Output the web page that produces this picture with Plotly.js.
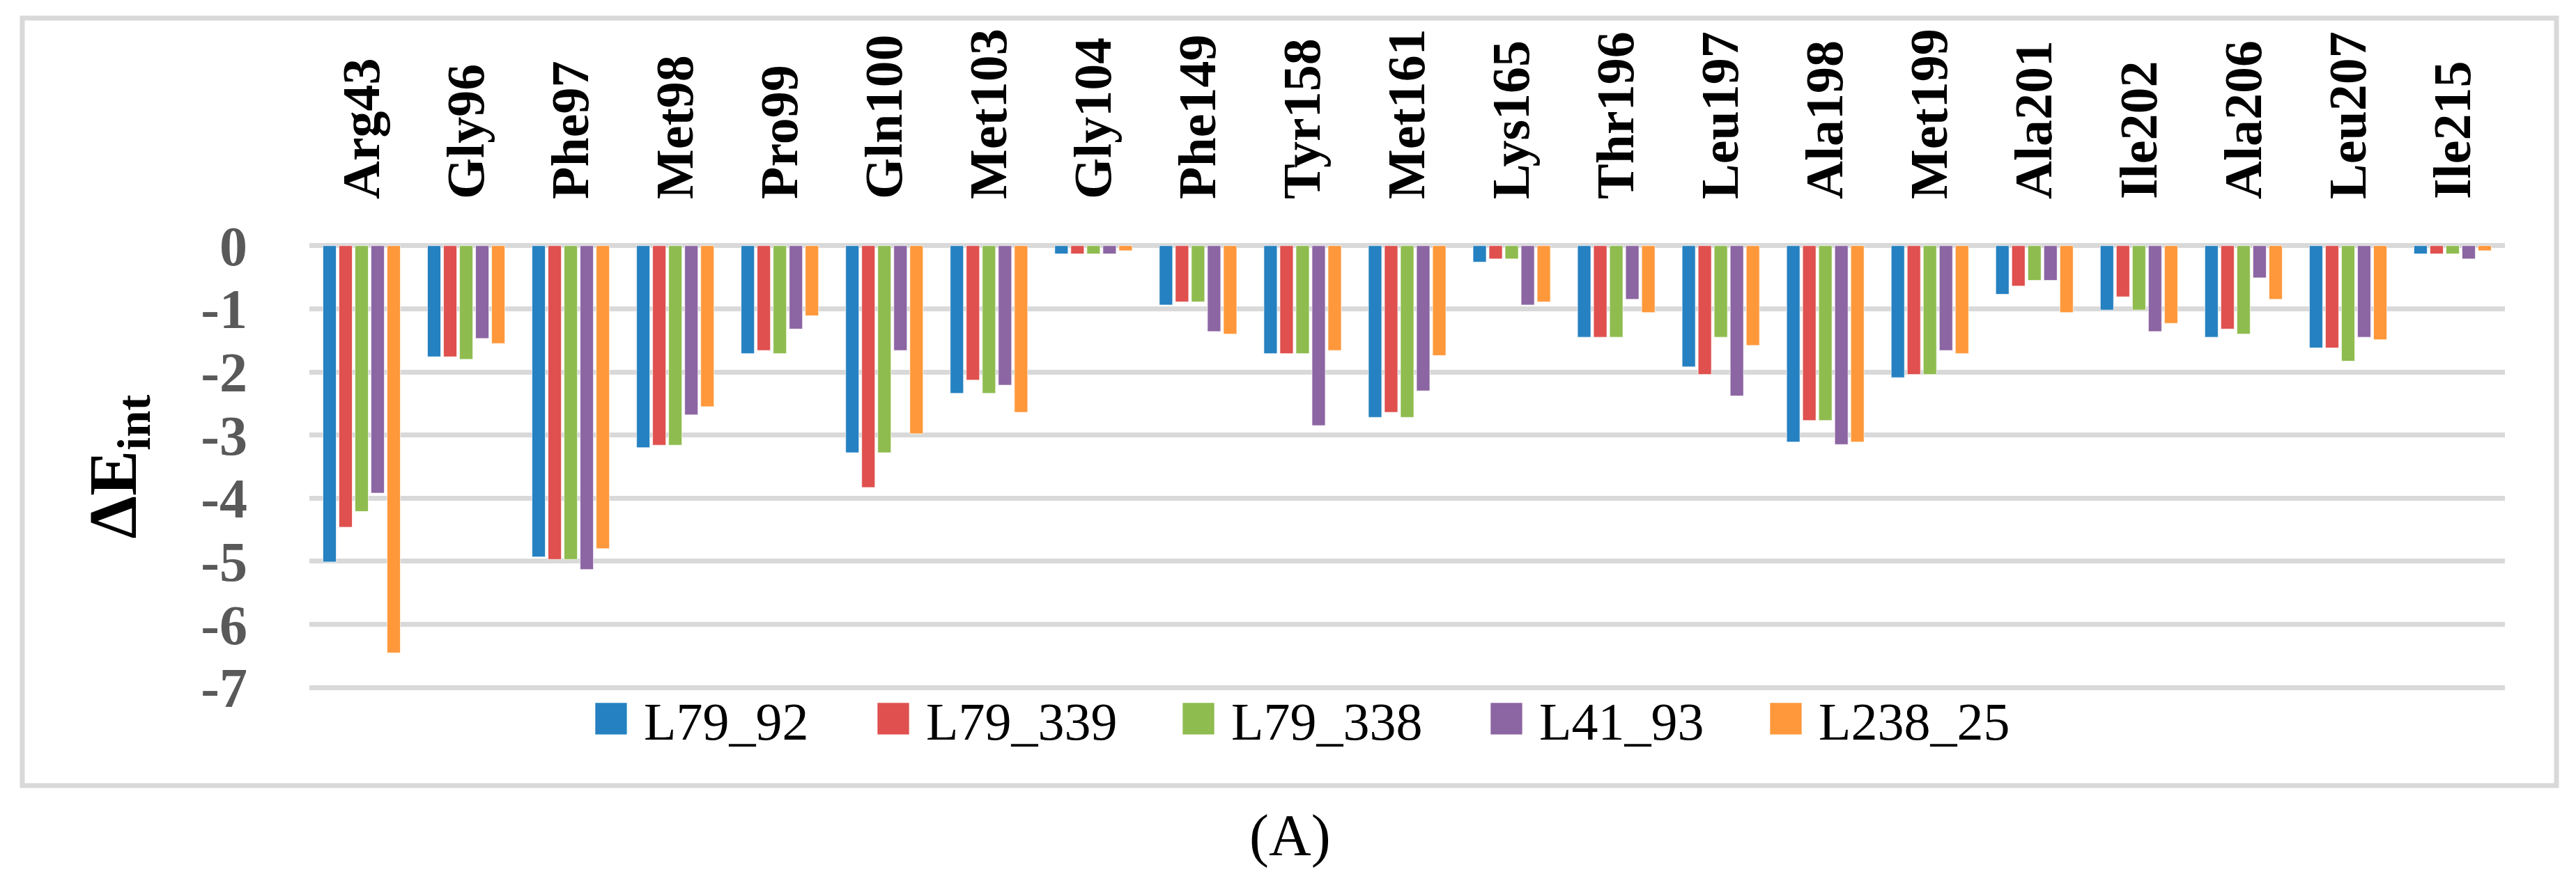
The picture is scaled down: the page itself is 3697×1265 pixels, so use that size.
<!DOCTYPE html>
<html>
<head>
<meta charset="utf-8">
<script src="https://cdn.plot.ly/plotly-3.0.1.min.js"></script>
<style>
  html, body { margin: 0; padding: 0; background: #ffffff; }
  #chart { width: 3697px; height: 1265px; }
</style>
</head>
<body>
<div id="chart"></div>
<script>
// ---- data ----
const residues = ['Arg43','Gly96','Phe97','Met98','Pro99','Gln100','Met103','Gly104','Phe149','Tyr158','Met161','Lys165','Thr196','Leu197','Ala198','Met199','Ala201','Ile202','Ala206','Leu207','Ile215'];
const seriesNames = ['L79_92','L79_339','L79_338','L41_93','L238_25'];
const L79_92  = [-5.01,-1.76,-4.93,-3.20,-1.71,-3.28,-2.34,-0.13,-0.94,-1.71,-2.72,-0.26,-1.45,-1.92,-3.11,-2.09,-0.77,-1.02,-1.45,-1.62,-0.13];
const L79_339 = [-4.46,-1.76,-4.97,-3.16,-1.66,-3.83,-2.13,-0.13,-0.89,-1.71,-2.64,-0.21,-1.45,-2.04,-2.77,-2.04,-0.64,-0.81,-1.32,-1.62,-0.13];
const L79_338 = [-4.21,-1.80,-4.97,-3.16,-1.71,-3.28,-2.34,-0.13,-0.89,-1.71,-2.72,-0.21,-1.45,-1.45,-2.77,-2.04,-0.55,-1.02,-1.40,-1.83,-0.13];
const L41_93  = [-3.92,-1.47,-5.13,-2.68,-1.32,-1.66,-2.21,-0.13,-1.36,-2.85,-2.30,-0.94,-0.85,-2.38,-3.15,-1.66,-0.55,-1.36,-0.51,-1.45,-0.21];
const L238_25 = [-6.45,-1.55,-4.80,-2.55,-1.11,-2.98,-2.64,-0.08,-1.40,-1.66,-1.74,-0.89,-1.06,-1.58,-3.11,-1.71,-1.06,-1.23,-0.85,-1.49,-0.08];
const yTickVals   = [0,-1,-2,-3,-4,-5,-6,-7];
const yTickLabels = ['0','-1','-2','-3','-4','-5','-6','-7'];
const yTitle = 'ΔE<sub>int</sub>';
const caption = '(A)';

// ---- styling ----
const colors = ['#2581C1','#DF504E','#8FBC4F','#8C65A3','#FE983B'];
const legendEntryWidths = [306, 339, 343, 302, 300];   // px per legend entry (spacing)
const seriesValues = [L79_92, L79_339, L79_338, L41_93, L238_25];
const W = 3697, H = 1265;
const M = { l: 444, r: 102, t: 350, b: 275 };
const PW = W - M.l - M.r, PH = H - M.t - M.b;
const px = x => (x - M.l) / PW;
const py = y => (H - M.b - y) / PH;
const serif = 'Liberation Serif, Times New Roman, serif';

const traces = seriesNames.map((n, i) => ({
  type: 'bar',
  name: n,
  x: residues,
  y: seriesValues[i],
  legendwidth: legendEntryWidths[i],
  marker: { color: colors[i], line: { color: 'rgba(255,255,255,0.7)', width: 1 } },
  hoverinfo: 'x+y+name'
}));

const layout = {
  width: W, height: H,
  margin: M,
  paper_bgcolor: '#ffffff',
  plot_bgcolor: '#ffffff',
  barmode: 'group',
  bargap: 0.233,
  bargroupgap: 0.174,
  showlegend: true,
  legend: {
    orientation: 'h',
    x: px(830), xanchor: 'left',
    y: py(1032), yanchor: 'middle',
    font: { family: serif, size: 76, color: '#000000' },
    itemwidth: 84,
    entrywidthmode: 'pixels',
    bgcolor: 'rgba(0,0,0,0)',
    traceorder: 'normal'
  },
  xaxis: {
    type: 'category',
    side: 'top',
    tickangle: -90,
    tickfont: { family: serif, size: 76, color: '#000000', weight: 'bold' },
    ticks: '',
    ticklabelstandoff: 63,
    showgrid: false, zeroline: false, showline: false,
    automargin: false
  },
  yaxis: {
    range: [-7.03, 0.03],
    tickmode: 'array',
    tickvals: yTickVals,
    ticktext: yTickLabels,
    tickfont: { family: serif, size: 80, color: '#595959', weight: 'bold' },
    ticks: '',
    ticklabelstandoff: 88,
    showgrid: true, gridcolor: '#d9d9d9', gridwidth: 7,
    zeroline: true, zerolinecolor: '#d9d9d9', zerolinewidth: 7,
    showline: false,
    automargin: false,
    title: { text: yTitle, font: { family: serif, size: 98, color: '#000000', weight: 'bold' }, standoff: 60 }
  },
  shapes: [{
    type: 'rect', xref: 'paper', yref: 'paper',
    x0: px(32), x1: px(3669), y0: py(1128), y1: py(26),
    line: { color: '#d9d9d9', width: 7 },
    fillcolor: 'rgba(0,0,0,0)',
    layer: 'below'
  }],
  annotations: [{
    text: caption, xref: 'paper', yref: 'paper',
    x: px(1851), y: py(1200), xanchor: 'center', yanchor: 'middle',
    showarrow: false,
    font: { family: serif, size: 84, color: '#000000' }
  }]
};

Plotly.newPlot('chart', traces, layout, { displayModeBar: false, staticPlot: true }).then(gd => {
  // enlarge the legend colour swatches to match the reference size
  gd.querySelectorAll('.legend .legendpoints path').forEach(p => {
    p.setAttribute('d', 'M23,23H-23V-23H23Z');
  });
});
</script>
</body>
</html>
